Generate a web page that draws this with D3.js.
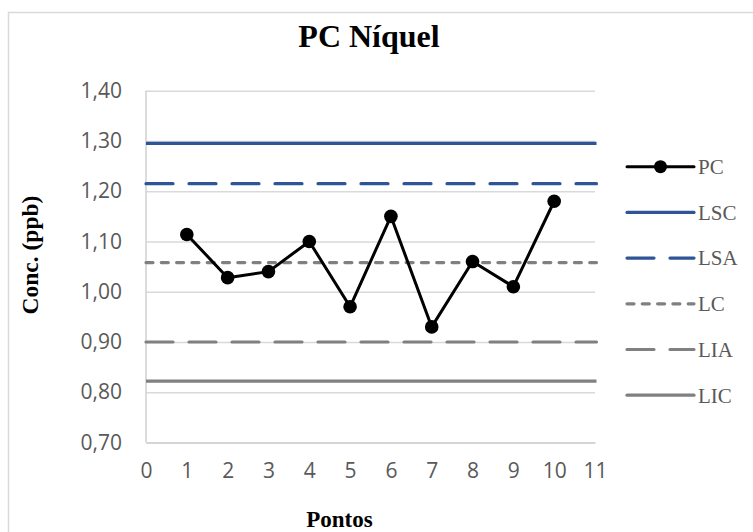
<!DOCTYPE html>
<html>
<head>
<meta charset="utf-8">
<script src="https://cdn.jsdelivr.net/npm/d3@7"></script>
<style>
  html, body { margin: 0; padding: 0; background: #fff; }
  svg { display: block; }
</style>
</head>
<body>
<svg id="chart" width="753" height="532"></svg>
<script>
// Control chart data: nickel check standard (PC) with control/warning limits
const pontos = [1, 2, 3, 4, 5, 6, 7, 8, 9, 10];
const pcValues = [1.114, 1.028, 1.04, 1.10, 0.97, 1.15, 0.93, 1.06, 1.01, 1.18];

const limitNames = ["LSC", "LSA", "LC", "LIA", "LIC"];
const limitValues = [1.295, 1.215, 1.058, 0.90, 0.822];

const yTicks = [0.70, 0.80, 0.90, 1.00, 1.10, 1.20, 1.30, 1.40];
const xTicks = [0, 1, 2, 3, 4, 5, 6, 7, 8, 9, 10, 11];

const legendNames = ["PC", "LSC", "LSA", "LC", "LIA", "LIC"];

// Line styles for each limit
const limitStyle = {
  LSC: { color: "#2f5597", dash: null },
  LSA: { color: "#2f5597", dash: "27,16" },
  LC:  { color: "#808080", dash: "7,8.3" },
  LIA: { color: "#808080", dash: "27,16" },
  LIC: { color: "#808080", dash: null }
};

const svg = d3.select("#chart");

// Chart area border
svg.append("rect")
  .attr("x", 8.5).attr("y", 12.5)
  .attr("width", 760).attr("height", 540)
  .attr("fill", "#fff")
  .attr("stroke", "#d9d9d9")
  .attr("stroke-width", 1.5);

const plot = { left: 146, right: 595, top: 90.7, bottom: 442.5 };

const x = d3.scaleLinear().domain([0, 11]).range([plot.left, plot.right]);
const y = d3.scaleLinear().domain([0.70, 1.40]).range([plot.bottom, plot.top]);

const fmt = v => d3.format(".2f")(v).replace(".", ",");
const tickFont = "'Open Sans', sans-serif";

// Gridlines
const yAxis = d3.axisLeft(y).tickValues(yTicks).tickFormat(fmt)
  .tickSize(-(plot.right - plot.left)).tickPadding(24);
const gy = svg.append("g").attr("transform", `translate(${plot.left},0)`).call(yAxis);
gy.select(".domain").remove();
gy.selectAll(".tick line").attr("stroke", "#d9d9d9").attr("stroke-width", 1.5);
gy.selectAll(".tick text")
  .attr("fill", "#595959")
  .style("font-family", tickFont)
  .style("font-size", "21px");

// Axis lines
svg.append("line")
  .attr("x1", plot.left).attr("x2", plot.left)
  .attr("y1", plot.top).attr("y2", plot.bottom)
  .attr("stroke", "#d0d0d0").attr("stroke-width", 1.5);

const xAxis = d3.axisBottom(x).tickValues(xTicks).tickFormat(d3.format("d"))
  .tickSize(0).tickPadding(21);
const gx = svg.append("g").attr("transform", `translate(0,${plot.bottom})`).call(xAxis);
gx.select(".domain").attr("stroke", "#d0d0d0").attr("stroke-width", 1.5);
gx.selectAll(".tick text")
  .attr("fill", "#595959")
  .style("font-family", tickFont)
  .style("font-size", "21px");

// Limit lines
limitNames.forEach((name, i) => {
  const s = limitStyle[name];
  svg.append("line")
    .attr("x1", x(0)).attr("x2", x(11) + 1.5)
    .attr("y1", y(limitValues[i])).attr("y2", y(limitValues[i]))
    .attr("stroke", s.color)
    .attr("stroke-width", 3.2)
    .attr("stroke-linecap", s.dash ? "round" : "butt")
    .attr("stroke-dasharray", s.dash);
});

// PC series
const line = d3.line().x((d, i) => x(pontos[i])).y(d => y(d));
svg.append("path")
  .datum(pcValues)
  .attr("d", line)
  .attr("fill", "none")
  .attr("stroke", "#000")
  .attr("stroke-width", 3)
  .attr("stroke-linejoin", "round");

svg.append("g").selectAll("circle")
  .data(pcValues)
  .join("circle")
  .attr("cx", (d, i) => x(pontos[i]))
  .attr("cy", d => y(d))
  .attr("r", 6.8)
  .attr("fill", "#000");

// Title
svg.append("text")
  .attr("x", 369).attr("y", 47)
  .attr("text-anchor", "middle")
  .style("font-family", "'Liberation Serif', serif")
  .style("font-weight", "bold")
  .style("font-size", "32px")
  .attr("fill", "#000")
  .text("PC Níquel");

// Axis titles
svg.append("text")
  .attr("transform", "translate(38,255) rotate(-90)")
  .attr("text-anchor", "middle")
  .style("font-family", "'Liberation Serif', serif")
  .style("font-weight", "bold")
  .style("font-size", "23.5px")
  .attr("fill", "#000")
  .text("Conc. (ppb)");

svg.append("text")
  .attr("x", 339.5).attr("y", 527)
  .attr("text-anchor", "middle")
  .style("font-family", "'Liberation Serif', serif")
  .style("font-weight", "bold")
  .style("font-size", "23px")
  .attr("fill", "#000")
  .text("Pontos");

// Legend
const legend = svg.append("g");
const legY0 = 166.7, legStep = 45.7, lx1 = 627, lx2 = 694;
legendNames.forEach((name, i) => {
  const ly = legY0 + i * legStep;
  const g = legend.append("g");
  if (name === "PC") {
    g.append("line").attr("x1", lx1).attr("x2", lx2).attr("y1", ly).attr("y2", ly)
      .attr("stroke", "#000").attr("stroke-width", 3).attr("stroke-linecap", "round");
    g.append("circle").attr("cx", (lx1 + lx2) / 2).attr("cy", ly).attr("r", 6.5).attr("fill", "#000");
  } else {
    const s = limitStyle[name];
    g.append("line").attr("x1", lx1).attr("x2", lx2).attr("y1", ly).attr("y2", ly)
      .attr("stroke", s.color).attr("stroke-width", 3.2)
      .attr("stroke-linecap", "round")
      .attr("stroke-dasharray", s.dash);
  }
  g.append("text")
    .attr("x", 698).attr("y", ly)
    .attr("dy", "0.35em")
    .style("font-family", "'Liberation Serif', serif")
    .style("font-size", "21px")
    .attr("fill", "#595959")
    .text(name);
});
</script>
</body>
</html>
